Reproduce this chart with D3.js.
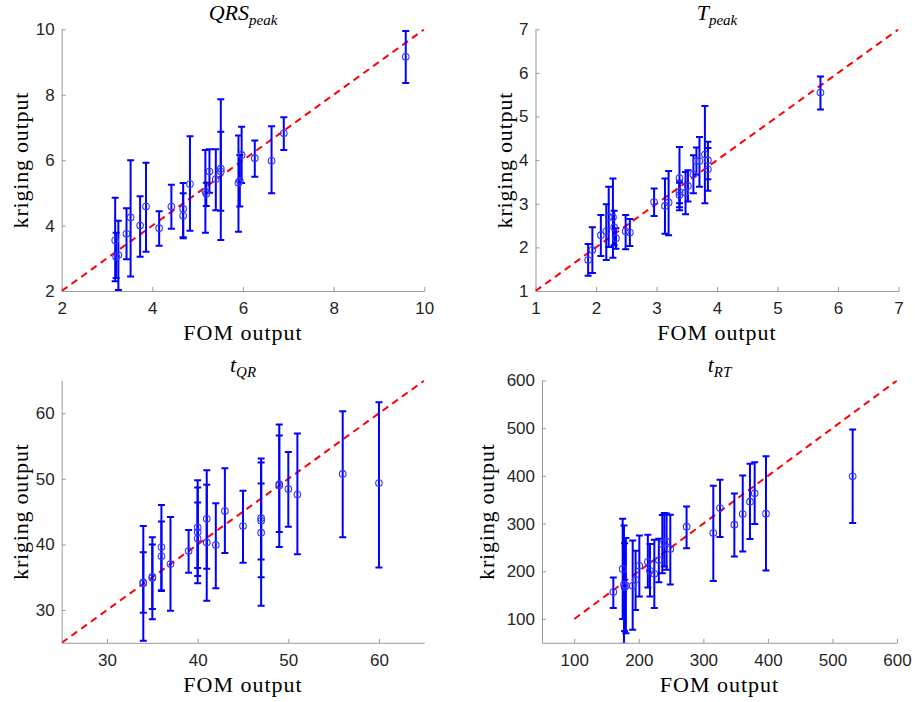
<!DOCTYPE html>
<html>
<head>
<meta charset="utf-8">
<script src="https://cdn.jsdelivr.net/npm/d3@7"></script>
<style>
  body { margin: 0; background: #ffffff; }
  svg { display: block; }
</style>
</head>
<body>
<svg id="chart" width="915" height="702"></svg>
<script>
// ---- QRS peak ----
const qrsFom  = [3.18, 3.20, 3.25, 3.43, 3.52, 3.73, 3.86, 4.15, 4.42, 4.68, 4.68, 4.83, 5.17, 5.19, 5.26, 5.40, 5.51, 5.51, 5.90, 5.93, 5.97, 6.26, 6.63, 6.90, 9.59];
const qrsKrig = [3.55, 3.05, 3.10, 3.75, 4.25, 4.00, 4.58, 3.92, 4.58, 4.51, 4.30, 5.27, 5.04, 4.97, 5.65, 5.42, 5.74, 5.65, 5.31, 5.37, 6.16, 6.06, 5.98, 6.82, 9.16];
const qrsLow  = [2.30, 2.40, 2.03, 2.97, 2.44, 3.05, 3.20, 3.38, 3.90, 3.61, 3.64, 3.84, 3.78, 4.60, 5.00, 4.47, 3.56, 4.45, 3.81, 4.58, 5.30, 5.49, 4.99, 6.31, 8.36];
const qrsHigh = [4.85, 3.78, 4.15, 4.53, 6.00, 4.90, 5.92, 4.44, 5.25, 5.30, 4.99, 6.73, 6.31, 5.31, 6.33, 6.33, 7.86, 6.87, 6.75, 6.16, 7.02, 6.60, 7.04, 7.31, 9.95];

// ---- T peak ----
const tpkFom  = [1.87, 1.94, 2.08, 2.17, 2.21, 2.28, 2.30, 2.33, 2.49, 2.56, 2.96, 3.14, 3.20, 3.38, 3.38, 3.38, 3.48, 3.52, 3.61, 3.66, 3.71, 3.80, 3.85, 3.85, 5.71];
const tpkKrig = [1.71, 1.94, 2.28, 2.37, 2.70, 2.69, 2.46, 2.21, 2.37, 2.34, 3.04, 2.95, 3.03, 3.59, 3.27, 3.20, 3.26, 3.41, 3.67, 3.98, 3.98, 4.13, 4.00, 3.79, 5.55];
const tpkLow  = [1.35, 1.41, 1.80, 1.71, 2.01, 1.76, 2.05, 1.97, 1.96, 2.03, 2.72, 2.31, 2.28, 2.85, 3.01, 2.92, 2.76, 3.05, 3.24, 3.67, 3.39, 3.01, 3.56, 3.30, 5.16];
const tpkHigh = [2.08, 2.46, 2.74, 2.99, 3.39, 3.58, 2.84, 2.44, 2.74, 2.65, 3.35, 3.58, 3.75, 4.30, 3.53, 3.48, 3.73, 3.77, 4.11, 4.29, 4.53, 5.24, 4.42, 4.28, 5.92];

// ---- t QR ----
const tqrFom  = [34, 34, 35, 35, 36, 36, 37, 39, 40, 40, 40, 41, 41, 42, 43, 45, 47, 47, 47, 49, 49, 50, 51, 56, 60];
const tqrKrig = [34.1, 34.2, 35.05, 34.9, 39.6, 38.2, 37.0, 39.0, 42.6, 41.9, 40.9, 43.9, 40.3, 39.9, 45.1, 42.8, 44.0, 43.6, 41.8, 49.2, 49.0, 48.45, 47.6, 50.75, 49.35];
const tqrLow  = [25.3, 29.6, 28.6, 30.15, 33.0, 32.9, 29.9, 35.7, 36.4, 34.1, 35.2, 36.3, 31.4, 33.3, 38.7, 37.2, 35.0, 37.7, 30.65, 41.9, 39.6, 42.7, 38.5, 41.1, 36.5];
const tqrHigh = [42.8, 38.8, 41.1, 40.0, 46.0, 43.5, 44.2, 42.2, 48.7, 49.8, 46.4, 51.3, 49.1, 46.3, 51.6, 48.2, 53.1, 49.3, 52.5, 56.6, 58.3, 54.1, 56.9, 60.3, 61.7];

// ---- t RT ----
const trtFom  = [160.5, 175, 177, 178, 180, 190.5, 195, 200.8, 214, 217.3, 224, 231, 236.4, 239.5, 243, 248.8, 274, 315.4, 325.8, 348, 361, 372.2, 379.5, 397, 531.3];
const trtKrig = [156.4, 205, 172, 167, 170, 169.6, 182, 211.6, 220, 201, 194.8, 223.6, 257, 261, 262, 246.7, 293.5, 280.2, 332.7, 297.7, 320, 346, 363.4, 320.8, 399];
const trtLow  = [122.8, 100, 48, 75, 70, 77.3, 119, 147, 166, 147, 122.8, 177, 196, 210, 203, 172.4, 248, 179.5, 271.8, 231, 241.6, 267.7, 299, 201.8, 301];
const trtHigh = [187, 310, 296, 259, 270, 264.7, 243, 275, 276.7, 257, 266, 268, 318, 322, 321, 318.7, 336, 379.5, 392, 362.8, 401, 425.7, 428.5, 441, 497];

// axis limits, ticks and identity-line ends
const qrsLimits = [2, 10],  qrsTicks = [2, 4, 6, 8, 10],            qrsDiag = [2, 10];
const tpkLimits = [1, 7],   tpkTicks = [1, 2, 3, 4, 5, 6, 7],       tpkDiag = [1, 7];
const tqrLimits = [25, 65], tqrXTicks = [30, 40, 50, 60], tqrYTicks = [30, 40, 50, 60], tqrDiag = [25, 65];
const trtLimits = [50, 600], trtTicks = [100, 200, 300, 400, 500, 600], trtDiag = [100, 600];

const xLabel = "FOM output";
const yLabel = "kriging output";

const panels = [
  { title: ["QRS", "peak"], fom: qrsFom, krig: qrsKrig, lo: qrsLow, hi: qrsHigh,
    xDom: qrsLimits, yDom: qrsLimits, xTicks: qrsTicks, yTicks: qrsTicks, diag: qrsDiag,
    box: { l: 61.7, r: 424.3, t: 29.3, b: 291 }, ylx: 28 },
  { title: ["T", "peak"], fom: tpkFom, krig: tpkKrig, lo: tpkLow, hi: tpkHigh,
    xDom: tpkLimits, yDom: tpkLimits, xTicks: tpkTicks, yTicks: tpkTicks, diag: tpkDiag,
    box: { l: 535.5, r: 898.5, t: 29.3, b: 291 }, ylx: 512 },
  { title: ["t", "QR"], fom: tqrFom, krig: tqrKrig, lo: tqrLow, hi: tqrHigh,
    xDom: tqrLimits, yDom: tqrLimits, xTicks: tqrXTicks, yTicks: tqrYTicks, diag: tqrDiag,
    box: { l: 61.7, r: 424.3, t: 380.5, b: 642.8 }, ylx: 28 },
  { title: ["t", "RT"], fom: trtFom, krig: trtKrig, lo: trtLow, hi: trtHigh,
    xDom: trtLimits, yDom: trtLimits, xTicks: trtTicks, yTicks: trtTicks, diag: trtDiag,
    box: { l: 542, r: 897, t: 380.5, b: 642.8 }, ylx: 494 }
];

const svg = d3.select("#chart");
svg.append("rect").attr("width", 915).attr("height", 702).attr("fill", "#ffffff");

const axisColor = "#9a9a9a";
const tickText = "#262626";
const sans = "'Liberation Sans', Helvetica, Arial, sans-serif";
const serif = "'Liberation Serif', 'Times New Roman', serif";
const fmt = d3.format("d");

panels.forEach((p, i) => {
  const x = d3.scaleLinear().domain(p.xDom).range([p.box.l, p.box.r]);
  const y = d3.scaleLinear().domain(p.yDom).range([p.box.b, p.box.t]);
  const g = svg.append("g");

  const clipId = "clip" + i;
  svg.append("clipPath").attr("id", clipId)
    .append("rect")
    .attr("x", p.box.l).attr("y", p.box.t)
    .attr("width", p.box.r - p.box.l).attr("height", p.box.b - p.box.t);

  // axes (left and bottom only, inward ticks)
  const xAxis = d3.axisBottom(x).tickValues(p.xTicks).tickFormat(fmt)
    .tickSizeInner(-4).tickSizeOuter(0).tickPadding(11);
  const yAxis = d3.axisLeft(y).tickValues(p.yTicks).tickFormat(fmt)
    .tickSizeInner(-4).tickSizeOuter(0).tickPadding(7);

  [[xAxis, `translate(0,${p.box.b})`], [yAxis, `translate(${p.box.l},0)`]].forEach(([ax, tr]) => {
    const a = g.append("g").attr("transform", tr).call(ax);
    a.select(".domain").attr("stroke", axisColor).attr("stroke-width", 1);
    a.selectAll(".tick line").attr("stroke", axisColor).attr("stroke-width", 1);
    a.selectAll(".tick text").attr("fill", tickText)
      .style("font-family", sans).style("font-size", "17px");
  });

  const plot = g.append("g").attr("clip-path", `url(#${clipId})`);

  // identity line
  plot.append("line")
    .attr("x1", x(p.diag[0])).attr("y1", y(p.diag[0]))
    .attr("x2", x(p.diag[1])).attr("y2", y(p.diag[1]))
    .attr("stroke", "#ff0000").attr("stroke-width", 2)
    .attr("stroke-dasharray", "7,5");

  const idx = d3.range(p.fom.length);
  const eb = plot.append("g").attr("stroke", "#0000ff").attr("stroke-width", 2);
  eb.selectAll(".bar").data(idx).join("line")
    .attr("x1", d => x(p.fom[d])).attr("x2", d => x(p.fom[d]))
    .attr("y1", d => y(p.lo[d])).attr("y2", d => y(p.hi[d]));
  eb.selectAll(".capLo").data(idx).join("line")
    .attr("x1", d => x(p.fom[d]) - 3.5).attr("x2", d => x(p.fom[d]) + 3.5)
    .attr("y1", d => y(p.lo[d])).attr("y2", d => y(p.lo[d]));
  eb.selectAll(".capHi").data(idx).join("line")
    .attr("x1", d => x(p.fom[d]) - 3.5).attr("x2", d => x(p.fom[d]) + 3.5)
    .attr("y1", d => y(p.hi[d])).attr("y2", d => y(p.hi[d]));

  plot.append("g").selectAll("circle").data(idx).join("circle")
    .attr("cx", d => x(p.fom[d])).attr("cy", d => y(p.krig[d]))
    .attr("r", 3.3).attr("fill", "none")
    .attr("stroke", "#3535ff").attr("stroke-width", 1.1);

  // title with subscript
  const cx = (p.box.l + p.box.r) / 2;
  const t = g.append("text").attr("x", cx).attr("y", p.box.t - 9)
    .attr("text-anchor", "middle").attr("fill", "#000")
    .style("font-family", serif).style("font-style", "italic").style("font-size", "22px");
  t.append("tspan").text(p.title[0]);
  t.append("tspan").attr("dy", 5).style("font-size", "15px").text(p.title[1]);

  // axis labels
  g.append("text").attr("x", cx).attr("y", p.box.b + 49)
    .attr("text-anchor", "middle").attr("fill", "#000")
    .style("font-family", serif).style("font-size", "22px").style("letter-spacing", "1px")
    .text(xLabel);
  g.append("text")
    .attr("transform", `translate(${p.ylx},${(p.box.t + p.box.b) / 2}) rotate(-90)`)
    .attr("text-anchor", "middle").attr("fill", "#000")
    .style("font-family", serif).style("font-size", "22px").style("letter-spacing", "0.8px")
    .text(yLabel);
});
</script>
</body>
</html>
